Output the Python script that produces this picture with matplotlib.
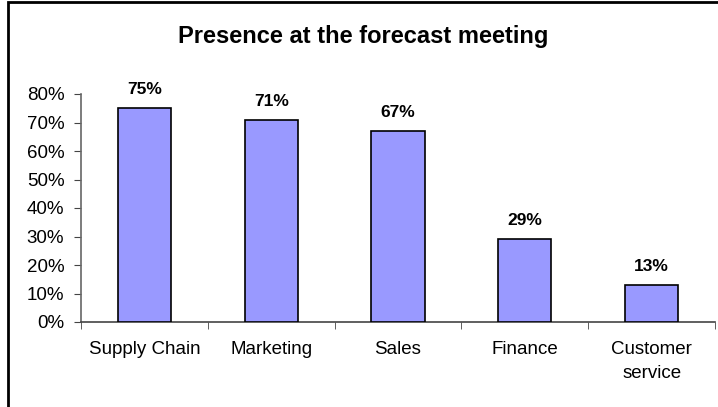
import matplotlib
matplotlib.use("Agg")
import matplotlib.pyplot as plt
from matplotlib.patches import Rectangle
from matplotlib.ticker import MultipleLocator, PercentFormatter

categories = ["Supply Chain", "Marketing", "Sales", "Finance", "Customer\nservice"]
values = [75, 71, 67, 29, 13]
title = "Presence at the forecast meeting"

plt.rcParams['font.family'] = ['Liberation Sans', 'DejaVu Sans']

fig = plt.figure(figsize=(7.18, 4.07), dpi=100)
W, H = 718, 407
ax = fig.add_axes([81 / W, 1 - 322 / H, (715 - 81) / W, (322 - 94) / H])

x = list(range(len(categories)))
bars = ax.bar(x, values, width=0.42, color="#9999FF", edgecolor="black", linewidth=1.2, zorder=3)
for xi, v in zip(x, values):
    ax.annotate(f"{v}%", (xi, v), xytext=(0, 8), textcoords="offset points",
                ha="center", va="bottom", fontsize=12.5, fontweight="bold")

ax.set_xlim(-0.5, len(categories) - 0.5)
ax.set_ylim(0, 80)
ax.yaxis.set_major_locator(MultipleLocator(10))
ax.yaxis.set_major_formatter(PercentFormatter(decimals=0))
ax.set_xticks(x)
ax.set_xticklabels(categories, linespacing=1.5)
ax.set_xticks([i - 0.5 for i in range(len(categories) + 1)], minor=True)
ax.tick_params(axis="x", which="major", length=0, pad=14, labelsize=13.5)
ax.tick_params(axis="x", which="minor", length=5, direction="out", color="#444444")
ax.tick_params(axis="y", length=5, direction="out", pad=7, labelsize=13.5, color="#444444")
for s in ["top", "right"]:
    ax.spines[s].set_visible(False)
ax.spines["left"].set_color("#666666")
ax.spines["bottom"].set_color("#444444")
ax.spines["left"].set_linewidth(1.2)
ax.spines["bottom"].set_linewidth(1.2)

fig.text((8 + 718) / 2 / W, 1 - 37 / H, title, ha="center", va="center",
         fontsize=17, fontweight="bold")

frame = Rectangle((8 / W, -0.05), 1.0, 1 - 2 / H + 0.05, transform=fig.transFigure,
                  fill=False, edgecolor="black", linewidth=2)
fig.patches.append(frame)

fig.savefig("out.png", dpi=100)
